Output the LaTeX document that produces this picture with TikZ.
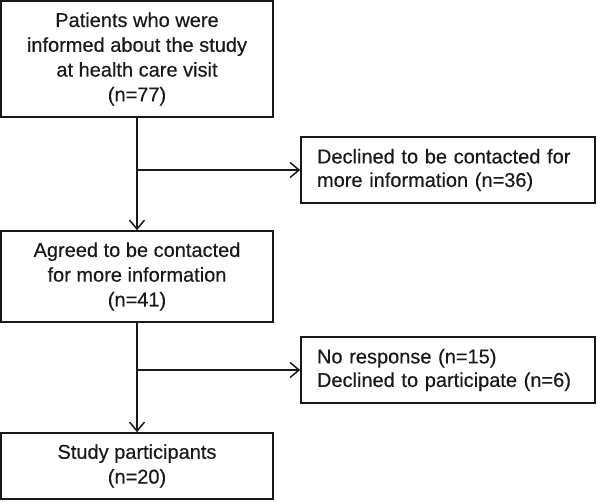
\documentclass[tikz,border=0pt]{standalone}
\usepackage{fontspec}
\setmainfont{Liberation Sans}
\newfontfamily\heavyfont[FakeBold=0.35]{Liberation Sans}
\usetikzlibrary{arrows.meta}
\begin{document}
\begin{tikzpicture}[x=1pt,y=-1pt,
  box/.style={draw=black!90,line width=1.6pt,inner sep=0pt,minimum width=272pt,text=black!90,
    font=\heavyfont\fontsize{20pt}{24.8pt}\selectfont,align=center},
  sidebox/.style={draw=black!90,line width=1.6pt,inner sep=0pt,minimum width=294pt,minimum height=66pt,
    text width=262pt,align=left,text=black!90,font=\heavyfont\fontsize{20pt}{23.5pt}\selectfont},
  conn/.style={draw=black!90,line width=1.5pt,-{Straight Barb[length=9pt,width=15pt,line width=1.5pt]}}]
\useasboundingbox (0,0) rectangle (597,501);
\node[box,minimum height=116pt] (b1) at (137,59) {Patients who were\\informed about the study\\at health care visit\\(n=77)};
\node[sidebox] (b2) at (448,170) {Declined to be contacted for\\more information (n=36)};
\node[box,minimum height=91pt] (b3) at (137,276.5) {Agreed to be contacted\\for more information\\(n=41)};
\node[sidebox] (b4) at (448,370) {No response (n=15)\\Declined to participate (n=6)};
\node[box,minimum height=66pt] (b5) at (137,466) {Study participants\\(n=20)};
\draw[conn] (b1.south) -- (b3.north);
\draw[conn] (b1.south |- b2.west) -- (b2.west);
\draw[conn] (b3.south) -- (b5.north);
\draw[conn] (b3.south |- b4.west) -- (b4.west);
\end{tikzpicture}
\end{document}
